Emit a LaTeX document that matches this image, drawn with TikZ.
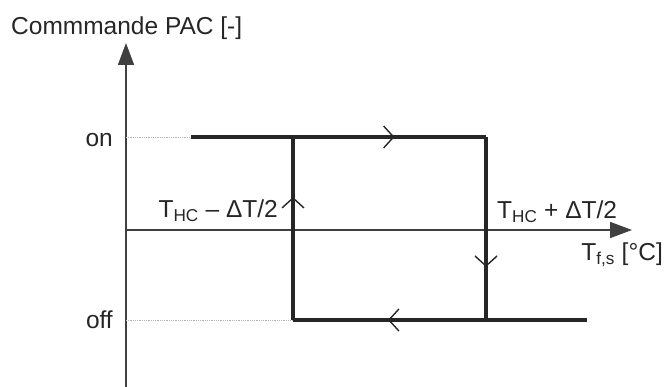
\documentclass[tikz,border=0pt]{standalone}
\usepackage{fontspec}
\setmainfont{Liberation Sans}
\usetikzlibrary{arrows.meta,decorations.markings,positioning}
\begin{document}
\begin{tikzpicture}[x=1pt,y=-1pt,
    axe/.style={line width=1.8pt,draw=black!75,-{Triangle[length=22pt,width=16pt]}},
    boucle/.style={line width=3.2pt,draw=black!85},
    guide/.style={line width=0.8pt,draw=black!30,densely dotted},
    sens/.style={postaction={decorate},decoration={markings,
        mark=at position #1 with {\arrow{Straight Barb[length=10pt,width=22pt,line width=1.4pt]}}}},
    lbl/.style={font=\fontsize{24.5}{29}\selectfont,inner sep=0pt,text=black!85}]
    \useasboundingbox (0,0) rectangle (664,387);
    % axes
    \coordinate (O) at (126,230);
    \coordinate (ybas) at (126,387);
    \coordinate (yhaut) at (126,43);
    \coordinate (xfin) at (632,230);
    \draw[axe] (ybas) -- (yhaut);
    \draw[axe] (O) -- (xfin);
    % niveaux on/off
    \coordinate (yon) at (126,137);
    \coordinate (yoff) at (126,320);
    \coordinate (on0) at (191,137);
    \coordinate (on1) at (293,137);
    \coordinate (on2) at (486,137);
    \coordinate (off1) at (293,320);
    \coordinate (off2) at (486,320);
    \coordinate (off3) at (587,320);
    \draw[guide] (yon) -- (on0);
    \draw[guide] (yoff) -- (off1);
    % cycle d'hysteresis
    \draw[boucle,sens=0.69] (on0) -- (on2);
    \draw[boucle,sens=0.71] (on2) -- (off2);
    \draw[boucle,sens=0.677] (off3) -- (off1);
    \draw[boucle,sens=0.672] (off1) -- (on1);
    % textes
    \node[lbl,anchor=base west] (titre) at (11,35) {Commmande PAC [-]};
    \node[lbl,anchor=base east] (on) at (113,147) {on};
    \node[lbl,anchor=base east] (off) at (113,328) {off};
    \node[lbl,anchor=base east] (tbas) at (278,218) {T\textsubscript{HC} – ΔT/2};
    \node[lbl,anchor=base west] (thaut) at (497,219) {T\textsubscript{HC} + ΔT/2};
    \node[lbl,anchor=base east] (tfs) at (663,261) {T\textsubscript{f,s} [°C]};
\end{tikzpicture}
\end{document}
